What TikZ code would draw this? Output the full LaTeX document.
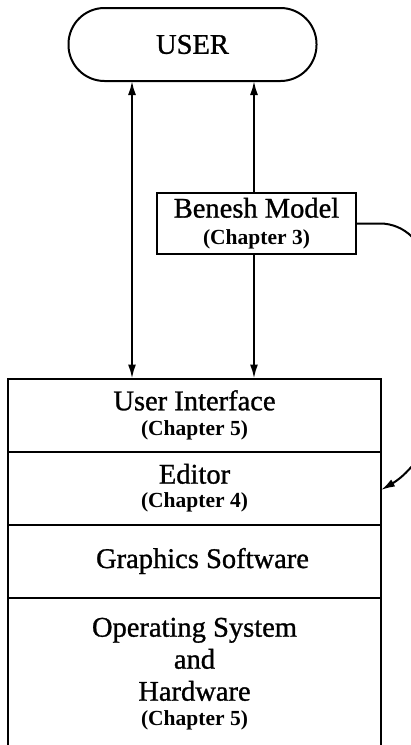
\documentclass[tikz,border=0pt]{standalone}
\usepackage{fontspec}
\setmainfont{Liberation Serif}[UprightFeatures={FakeBold=1}]
\usetikzlibrary{arrows.meta}
\begin{document}
\begin{tikzpicture}[x=1pt,y=-1pt,
  line width=2pt,
  every node/.style={font=\fontsize{28.5}{32}\selectfont, align=center, inner sep=0pt, outer sep=0pt},
  tip/.style={-{Latex[length=14pt,width=8pt]}},
  twotip/.style={{Latex[length=14pt,width=8pt]}-{Latex[length=14pt,width=8pt]}},
  layer/.style={draw, minimum width=373pt},
]
\newcommand\chapnote[1]{{\fontsize{21.5}{22}\selectfont\bfseries #1}}
\useasboundingbox (0,0) rectangle (411,745);
\clip (0,0) rectangle (411,745);

% the user at the top
\node[draw, rounded corners=36pt, minimum width=248pt, minimum height=73pt] (user) at (192.5,44.5) {USER};

% the notation model
\node[draw, minimum width=199pt, minimum height=61pt] (benesh) at (256.5,223.5)
  {Benesh Model\\[-5pt]\chapnote{(Chapter 3)}};

% the layered system, open at the bottom
\node[layer, minimum height=73pt] (ui) at (194.5,415) {User Interface\\[-7pt]\chapnote{(Chapter 5)}};
\node[layer, minimum height=73pt, anchor=north] (editor) at (ui.south) {Editor\\[-8pt]\chapnote{(Chapter 4)}};
\node[layer, minimum height=73pt, anchor=north] (gfx) at (editor.south) {\hspace*{16pt}Graphics Software};
\node (os) at (194.5,674) {Operating System\\and\\Hardware\\[-7pt]\chapnote{(Chapter 5)}};
\draw (gfx.south west) -- ++(0,160);
\draw (gfx.south east) -- ++(0,160);

% connectors
\coordinate (lx) at (132,0);
\coordinate (rx) at (254,0);
\coordinate (fb) at (425,0);
\coordinate (fbturn) at (425,410);
\draw[twotip] (user.south -| lx) -- (ui.north -| lx);
\draw[tip] (benesh.north -| rx) -- (user.south -| rx);
\draw[tip] (benesh.south -| rx) -- (ui.north -| rx);
\draw[tip, rounded corners=45pt] (benesh.east) -- (benesh.east -| fb) -- (fbturn)
  [rounded corners=0pt] to[out=-90, in=30] ([yshift=-2pt]editor.east);
\end{tikzpicture}
\end{document}
